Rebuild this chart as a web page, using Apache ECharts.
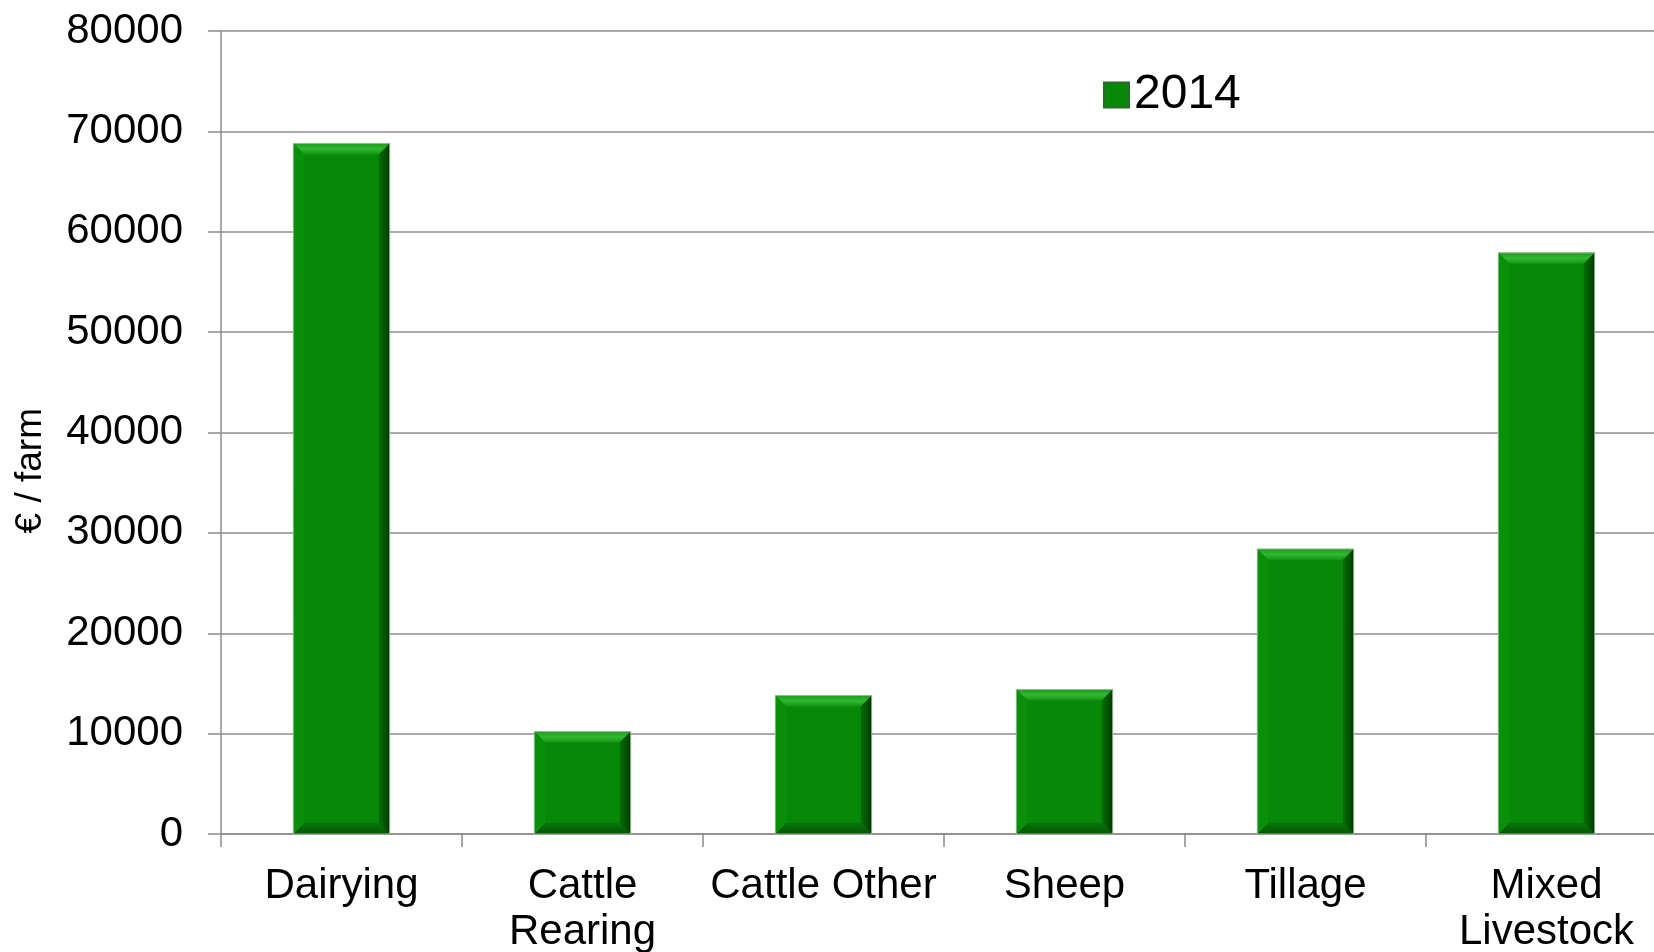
<!DOCTYPE html>
<html>
<head>
<meta charset="utf-8">
<script src="https://cdn.jsdelivr.net/npm/echarts@6/dist/echarts.min.js"></script>
<style>
  html, body { margin: 0; padding: 0; background: #fff; }
  #chart { width: 1654px; height: 952px; }
</style>
</head>
<body>
<div id="chart"></div>
<script>
const categories = ['Dairying', 'Cattle\nRearing', 'Cattle Other', 'Sheep', 'Tillage', 'Mixed\nLivestock']
const values2014 = [68800, 10200, 13800, 14400, 28400, 57900]
const seriesName = '2014'

const font = 'Liberation Sans, Arial, sans-serif'

// bevelled bar, sized by the category band and value scale
const renderBar = (params, api) => {
  const top = api.coord([api.value(0), api.value(1)])
  const base = api.coord([api.value(0), 0])
  const bw = api.size([1, 0])[0] * 0.4
  const x0 = top[0] - bw / 2, x1 = top[0] + bw / 2
  const y0 = top[1], y1 = base[1]
  const b = Math.min(11, (y1 - y0) / 2)
  return {
    type: 'group',
    children: [
      { type: 'rect', shape: { x: x0, y: y0, width: bw, height: y1 - y0 }, style: { fill: '#088808' } },
      { type: 'polygon', shape: { points: [[x0, y0], [x1, y0], [x1 - b, y0 + b], [x0 + b, y0 + b]] },
        style: { fill: new echarts.graphic.LinearGradient(0, 0, 0, 1, [
          { offset: 0, color: '#1a9e1a' }, { offset: 0.5, color: '#33b833' }, { offset: 1, color: '#129412' }]) } },
      { type: 'polygon', shape: { points: [[x1, y0], [x1, y1], [x1 - b, y1 - b], [x1 - b, y0 + b]] },
        style: { fill: new echarts.graphic.LinearGradient(0, 0, 1, 0, [
          { offset: 0, color: '#067006' }, { offset: 1, color: '#013a01' }]) } },
      { type: 'polygon', shape: { points: [[x0, y1], [x1, y1], [x1 - b, y1 - b], [x0 + b, y1 - b]] },
        style: { fill: new echarts.graphic.LinearGradient(0, 0, 0, 1, [
          { offset: 0, color: '#077607' }, { offset: 1, color: '#045404' }]) } },
      { type: 'polygon', shape: { points: [[x0, y0], [x0 + b, y0 + b], [x0 + b, y1 - b], [x0, y1]] },
        style: { fill: '#0a8f0a' } },
      { type: 'rect', shape: { x: x0, y: y0, width: bw, height: y1 - y0 }, style: { fill: 'none', stroke: '#9ab89a', lineWidth: 1 } }
    ]
  }
}

const chart = echarts.init(document.getElementById('chart'))
chart.setOption({
  backgroundColor: '#ffffff',
  animation: false,
  grid: { left: 221, right: -13, top: 31, bottom: 118, outerBoundsMode: 'none', containLabel: false },
  legend: {
    data: [seriesName],
    left: 1098, top: 66,
    itemWidth: 25, itemHeight: 25, itemGap: 15,
    icon: 'rect',
    textStyle: { fontFamily: font, fontSize: 48, color: '#000' }
  },
  graphic: [{
    type: 'text',
    left: 12, top: 408,
    rotation: Math.PI / 2,
    style: { text: '€ / farm', font: '37px ' + font, fill: '#000' }
  }],
  xAxis: {
    type: 'category',
    data: categories,
    axisLine: { lineStyle: { color: '#8c8c8c', width: 1.5 } },
    axisTick: { show: true, length: 13, lineStyle: { color: '#8c8c8c', width: 1.5 } },
    axisLabel: {
      interval: 0, margin: 29, color: '#000',
      fontFamily: font, fontSize: 42, lineHeight: 46
    }
  },
  yAxis: {
    type: 'value',
    min: 0, max: 80000, interval: 10000,
    axisLine: { show: true, lineStyle: { color: '#8c8c8c', width: 1.5 } },
    axisTick: { show: true, length: 13, lineStyle: { color: '#8c8c8c', width: 1.5 } },
    splitLine: { lineStyle: { color: '#8c8c8c', width: 1.5 } },
    axisLabel: {
      margin: 38, color: '#000', fontFamily: font, fontSize: 42,
      formatter: v => String(v)
    }
  },
  series: [{
    name: seriesName,
    type: 'custom',
    renderItem: renderBar,
    encode: { x: 0, y: 1 },
    itemStyle: { color: '#088808', borderColor: '#2a6a2a', borderWidth: 1 },
    data: values2014.map((v, i) => [i, v])
  }]
})
</script>
</body>
</html>
